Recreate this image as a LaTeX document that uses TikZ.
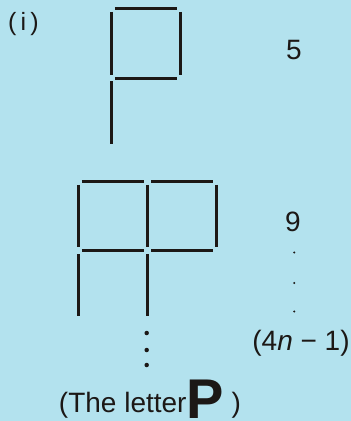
\documentclass[tikz,border=0pt]{standalone}
\usepackage{fontspec}
\setmainfont{Liberation Sans}
\definecolor{paper}{RGB}{179,226,238}
\definecolor{ink}{RGB}{28,24,22}
\tikzset{
  stick/.style={draw=ink,line width=3pt},
  lbl/.style={text=ink,font=\fontsize{28}{30}\selectfont,inner sep=0pt,anchor=base},
  smdot/.style={circle,fill=ink,inner sep=0pt,minimum size=2.2pt},
  bgdot/.style={circle,fill=ink,inner sep=0pt,minimum size=4.5pt},
}
\newcommand\bigP{{\fontsize{56}{56}\selectfont\bfseries P}}

\begin{document}
\begin{tikzpicture}[x=1pt,y=-1pt]
  \fill[paper] (0,0) rectangle (351,421);
  \useasboundingbox (0,0) rectangle (351,421);
  \clip (0,0) rectangle (351,421);
  % one P: a square and a leg
  \begin{scope}[shift={(111.3,8.5)},x=69.5pt,y=-69.5pt]
    \foreach \j in {0,1} \draw[stick] (0.05,\j) -- (0.95,\j);
    \foreach \i in {0,1} \draw[stick] (\i,0.05) -- (\i,0.95);
    \draw[stick] (0,1.05) -- (0,1.95);
  \end{scope}
  % two P's side by side
  \begin{scope}[shift={(78.3,181.3)},x=69.3pt,y=-69.3pt]
    \foreach \i in {0,1} \foreach \j in {0,1}
      \draw[stick] (\i+0.05,\j) -- (\i+0.95,\j);
    \foreach \i in {0,1,2} \draw[stick] (\i,0.05) -- (\i,0.95);
    \foreach \i in {0,1} \draw[stick] (\i,1.05) -- (\i,1.95);
  \end{scope}
  \foreach \y [count=\k] in {333,350,365}
    \node[bgdot] (d\k) at (146.7,\y) {};
  % counts
  \node[lbl,font=\fontsize{25}{27}\selectfont] (tag) at (23.5,30) {(\,i\,)};
  \node[lbl] (c1) at (294,59) {5};
  \node[lbl] (c2) at (293,231) {9};
  \foreach \y [count=\k] in {252.5,283,311.5}
    \node[smdot] (v\k) at (294.3,\y) {};
  \node[lbl] (cn) at (301,350) {(4\textit{n} − 1)};
  \node[lbl] (cap) at (150,412) {(The letter\raisebox{-6pt}{\bigP} )};
\end{tikzpicture}
\end{document}
